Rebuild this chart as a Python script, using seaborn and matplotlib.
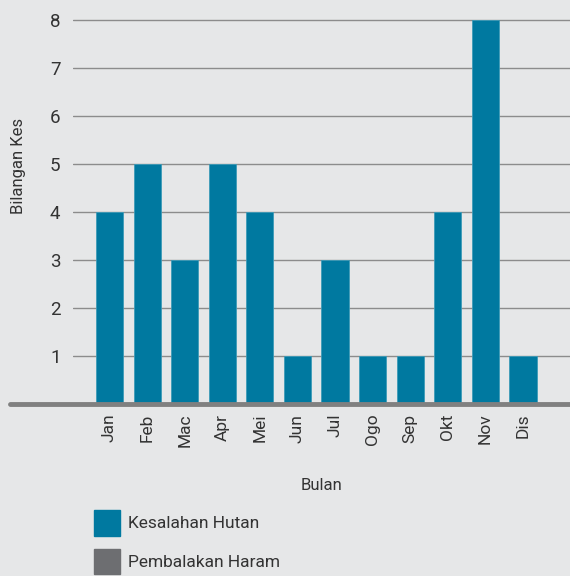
import numpy as np
import pandas as pd
import seaborn as sns
import matplotlib.pyplot as plt
from matplotlib.patches import Patch
from matplotlib.lines import Line2D

months = ["Jan", "Feb", "Mac", "Apr", "Mei", "Jun", "Jul", "Ogo", "Sep", "Okt", "Nov", "Dis"]
kesalahan_hutan = [4, 5, 3, 5, 4, 1, 3, 1, 1, 4, 8, 1]
series_names = ["Kesalahan Hutan", "Pembalakan Haram"]

bg = "#e6e7e8"
teal = "#0079a0"
grey = "#6d6e71"

sns.set_theme(style="white")
plt.rcParams["font.family"] = ["Liberation Sans Narrow", "Roboto", "DejaVu Sans"]
plt.rcParams["text.color"] = "#333333"

df = pd.DataFrame({"Bulan": months, "Kes": kesalahan_hutan})

fig = plt.figure(figsize=(5.7, 5.76), dpi=100, facecolor=bg)
ax = fig.add_axes([73 / 570, 1 - 404 / 576, 1 - 73 / 570, 404 / 576])
ax.set_facecolor(bg)

sns.barplot(data=df, x="Bulan", y="Kes", color=teal, saturation=1, width=0.72,
            edgecolor="#3d9bb8", linewidth=0.6, ax=ax, zorder=3)

ax.set_ylim(0, 404 / 48)
ax.set_xlim(-0.97, 12.25)
ax.set_yticks(range(1, 9))
ax.yaxis.grid(True, color="#8c8c8c", linewidth=1)
for s in ax.spines.values():
    s.set_visible(False)
ax.tick_params(axis="y", length=0, pad=9, labelsize=13.5, labelcolor="#333333")
ax.tick_params(axis="x", length=0, pad=7, labelsize=12.5, labelcolor="#333333", rotation=90)

ax.set_xlabel("Bulan", fontsize=12, color="#333333", labelpad=22)
ax.set_ylabel("Bilangan Kes", fontsize=12, color="#333333")
ax.yaxis.set_label_coords(-0.095, 0.59)

# thick baseline across the plot
fig.add_artist(Line2D([10 / 570, 1], [1 - 404 / 576] * 2, color="#808080", linewidth=3.5))

handles = [Patch(facecolor=teal, edgecolor=teal), Patch(facecolor=grey, edgecolor=grey)]
fig.legend(handles, series_names, loc="upper left", bbox_to_anchor=(80 / 570, 1 - 496 / 576),
           frameon=False, fontsize=12.5, handlelength=1.5, handleheight=1.9,
           handletextpad=0.45, labelspacing=0.75, borderpad=0.3)

fig.savefig("out.png", dpi=100, facecolor=bg)
